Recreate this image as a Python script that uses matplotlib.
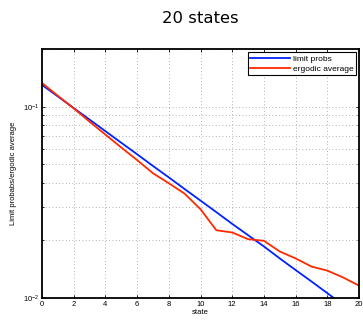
import numpy as np
from matplotlib import pyplot as plt
from matplotlib.ticker import LogLocator, NullFormatter

states = list(range(21))
limit_probs = [0.130, 0.1131, 0.0984, 0.0856, 0.0745, 0.0648, 0.0564, 0.0490,
               0.0427, 0.0371, 0.0323, 0.0281, 0.0244, 0.0213, 0.0186, 0.0161,
               0.0140, 0.0122, 0.0106, 0.0092, 0.0080]
ergodic_avg = [0.133, 0.114, 0.098, 0.0835, 0.0715, 0.0612, 0.0526, 0.0449,
               0.0398, 0.0351, 0.0291, 0.0226, 0.0220, 0.0203, 0.0199, 0.0175,
               0.0161, 0.0146, 0.0139, 0.0128, 0.0116]

plt.rcParams['font.family'] = ['Liberation Sans', 'DejaVu Sans']

fig = plt.figure(figsize=(3.63, 3.21), dpi=100)
ax = fig.add_axes([0.1157, 0.0717, 0.8733, 0.7753])

ax.semilogy(states, limit_probs, color='#0022ff', lw=1.3, label='limit probs')
ax.semilogy(states, ergodic_avg, color='#ff2a00', lw=1.3, label='ergodic average')

ax.set_xlim(0, 20)
ax.set_ylim(0.01, 0.2)
ax.set_xticks(range(0, 21, 2))
ax.yaxis.set_major_locator(LogLocator(base=10))
ax.yaxis.set_minor_locator(LogLocator(base=10, subs=np.arange(2, 10)))
ax.yaxis.set_minor_formatter(NullFormatter())

grid_style = dict(linestyle=(0, (1, 3)), color='#999999', lw=0.6)
ax.grid(True, which='major', axis='x', **grid_style)
ax.grid(True, which='both', axis='y', **grid_style)

ax.tick_params(which='both', direction='in', top=True, right=True,
               labelsize=5.5, length=2.5, width=0.6, pad=2)
ax.tick_params(which='minor', length=1.5)
for s in ax.spines.values():
    s.set_linewidth(1.3)

ax.set_xlabel('state', fontsize=5.5, labelpad=1)
ax.set_ylabel('Limit probabs/ergodic average', fontsize=5.5, labelpad=4)
ax.set_title('20 states', fontsize=11.8, family='DejaVu Sans', pad=19)

leg = ax.legend(loc='upper right', fontsize=6, fancybox=False,
                edgecolor='black', framealpha=1, borderaxespad=0.4,
                handlelength=4.8, handletextpad=0.3, borderpad=0.3,
                labelspacing=0.25)
leg.get_frame().set_linewidth(0.8)

fig.savefig('out.png', dpi=100)
